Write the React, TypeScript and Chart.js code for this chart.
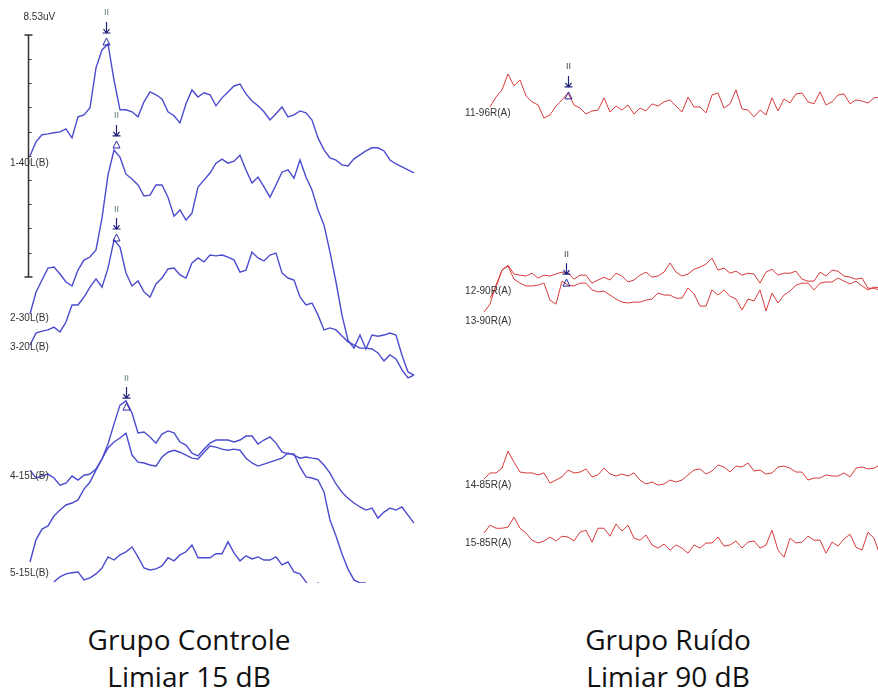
import { useEffect, useRef } from "react";
import { Chart, registerables } from "chart.js";

Chart.register(...registerables);

// ---- sampling / scale constants ----
const STEP_MS = 0.2; // sampling interval of the stored points (ms)
const Y_MIN_UV = 0;
const Y_MAX_UV = 20.55;
const SCALE_BAR_UV = 8.53;
const SCALE_BAR_DIVISIONS = 10;
const SCALE_BAR_TOP_UV = 19.32;
const SCALE_BAR_MS = -0.07;

// ---- Grupo Controle (left) : amplitudes in µV relative to each trace baseline ----
const LEFT_NAMES = ["1-40L(B)", "2-30L(B)", "3-20L(B)", "4-15L(B)", "5-15L(B)", ""];
const LEFT_START_MS = [0, 0, 0, 0, 0, 0.8];
const LEFT_OFFSETS_UV = [15.02, 9.55, 8.46, 3.98, 0.74, 0.11];
const LEFT_LABEL_UV = [14.8, 9.34, 8.32, 3.77, 0.35, null];

const T1_40L = [0.04, 0.53, 0.78, 0.81, 0.85, 0.88, 0.99, 0.67, 1.41, 1.48, 1.73, 3.14, 3.77, 3.98, 2.71, 1.66, 1.66, 1.59, 1.41, 1.94, 2.29, 2.19, 2.04, 1.59, 1.45, 1.2, 1.87, 2.36, 2.11, 2.26, 2.19, 1.8, 2.08, 2.29, 2.5, 2.57, 2.22, 1.97, 1.8, 1.59, 1.3, 1.52, 1.76, 1.41, 1.48, 1.62, 1.55, 1.3, 0.67, 0.25, -0.04, -0.11, -0.28, -0.32, -0.07, 0.07, 0.21, 0.32, 0.32, 0.21, -0.11, -0.25, -0.35, -0.46, -0.56];
const T2_30L = [-0.07, 0.7, 1.13, 1.55, 1.59, 1.34, 1.06, 0.92, 1.48, 1.83, 1.94, 2.19, 3.31, 4.83, 5.71, 5.46, 4.86, 4.69, 4.48, 4.09, 4.12, 4.48, 4.48, 4.05, 3.38, 3.6, 3.24, 3.49, 4.41, 4.65, 4.9, 5.25, 5.39, 5.25, 5.32, 5.53, 5.01, 4.55, 4.76, 4.41, 4.05, 4.48, 4.93, 5.01, 4.72, 5.36, 4.76, 4.3, 3.6, 3.07, 2.11, 1.06, -0.11, -0.99, -1.27, -0.81, -1.3, -0.81, -0.85, -0.81, -0.74, -0.81, -1.52, -2.11, -2.22];
const T3_20L = [-0.07, 0.35, 0.42, 0.46, 0.56, 0.39, 0.74, 1.34, 1.34, 1.62, 1.97, 2.26, 1.97, 2.64, 3.63, 3.38, 2.47, 2.01, 2.19, 1.8, 1.62, 2.08, 2.29, 2.61, 2.64, 2.4, 2.29, 2.82, 3.0, 2.86, 3.1, 3.07, 3.1, 3.03, 2.93, 2.5, 2.57, 3.21, 3.0, 2.89, 3.1, 3.17, 2.47, 2.29, 2.22, 1.62, 1.34, 1.41, 0.99, 0.46, 0.53, 0.46, 0.25, 0.04, -0.07, -0.18, -0.18, -0.21, -0.35, -0.63, -0.42, -0.56, -0.95, -1.23, -1.13];
const T4_15L = [0, -0.28, -0.21, -0.14, -0.28, -0.53, -0.46, -0.21, -0.35, -0.18, -0.14, 0.04, 0.39, 0.78, 0.99, 1.13, 1.3, 0.53, 0.28, 0.25, 0.18, 0.14, 0.46, 0.63, 0.7, 0.63, 0.53, 0.42, 0.39, 0.63, 0.85, 0.81, 0.74, 0.7, 0.74, 0.7, 0.42, 0.25, 0.14, 0.21, 0.28, 0.35, 0.42, 0.6, 0.53, 0.42, 0.46, 0.42, 0.39, 0.18, -0.11, -0.49, -0.78, -0.99, -1.16, -1.3, -1.41, -1.34, -1.69, -1.48, -1.34, -1.41, -1.3, -1.59, -1.87];
const T5_15L = [0, 0.78, 1.16, 1.27, 1.62, 1.83, 2.01, 2.08, 2.19, 2.57, 2.82, 3.24, 3.63, 4.16, 4.86, 5.53, 5.68, 5.25, 4.55, 4.58, 4.41, 4.19, 4.51, 4.62, 4.55, 4.23, 4.12, 3.84, 3.74, 3.98, 4.19, 4.3, 4.3, 4.3, 4.23, 4.3, 4.44, 4.44, 4.16, 4.3, 4.41, 4.19, 3.88, 3.81, 3.81, 3.35, 3.0, 2.96, 2.89, 2.47, 1.48, 0.92, 0.28, -0.25, -0.63, -0.74, -0.74];
const T6_BOTTOM = [-0.07, 0.11, 0.21, 0.25, 0.28, 0, 0.07, 0.21, 0.42, 0.81, 0.7, 0.88, 0.99, 1.16, 0.81, 0.42, 0.35, 0.39, 0.49, 0.78, 0.67, 0.88, 0.99, 1.23, 0.78, 0.78, 0.78, 0.92, 0.92, 1.34, 0.95, 0.67, 0.85, 0.74, 0.81, 0.7, 0.7, 0.81, 0.53, 0.63, 0.28, 0.21, -0.07, -0.35, -0.11, -0.53];

const LEFT_WAVE_II = [
  { trace: 0, ms: 2.53, uV: 4.05 },
  { trace: 1, ms: 2.87, uV: 5.89 },
  { trace: 2, ms: 2.87, uV: 3.7 },
  { trace: 4, ms: 3.2, uV: 5.46 },
];

// ---- Grupo Ruído (right) ----
const RIGHT_NAMES = ["11-96R(A)", "12-90R(A)", "13-90R(A)", "14-85R(A)", "15-85R(A)"];
const RIGHT_START_MS = [0, 0, -0.2, -0.2, -0.2];
const RIGHT_OFFSETS_UV = [16.85, 10.15, 9.83, 3.7, 2.04];
const RIGHT_LABEL_UV = [16.57, 10.29, 9.24, 3.45, 1.41];

const T11_96R = [-0.07, 0.28, 0.53, 1.09, 0.67, 0.88, 0.32, 0.11, 0, -0.46, -0.35, -0.04, 0.18, 0.42, 0, -0.11, -0.32, -0.21, -0.18, 0.25, -0.25, -0.04, -0.18, 0, -0.32, -0.11, -0.21, 0.04, -0.04, 0.11, 0.18, -0.04, -0.25, 0.28, -0.07, -0.07, -0.28, 0.35, 0.42, -0.11, 0.04, 0.53, -0.14, -0.18, -0.42, -0.18, -0.35, 0.25, -0.21, 0.21, 0.07, 0.39, 0.42, 0.11, 0.04, 0.46, 0, 0.11, 0.35, 0.39, 0.04, 0.18, 0.14, 0.07, 0.25, 0.28];
const T12_90R = [-0.11, 0.28, 0.88, 1.02, 0.56, 0.42, 0.32, 0.32, 0.35, 0.42, -0.18, -0.32, 0.49, 0.35, 0.32, 0.42, 0.42, 0.18, 0.11, 0.14, 0, -0.14, -0.25, -0.28, -0.25, -0.25, -0.18, -0.14, 0.07, 0, 0, -0.11, -0.11, 0.25, 0.04, -0.39, -0.39, 0.18, 0, 0.18, -0.04, -0.14, -0.53, -0.14, -0.21, 0.18, -0.56, 0.07, -0.28, 0, 0.14, 0.35, 0.42, 0.42, 0.18, 0.42, 0.46, 0.46, 0.6, 0.49, 0.39, 0.49, 0.32, 0.18, 0.28, 0.25];
const T13_90R = [-0.28, 0, 0.67, 1.2, 1.37, 1.06, 1.02, 0.99, 1.09, 0.92, 1.02, 0.99, 1.06, 1.13, 1.09, 0.88, 1.02, 1.02, 0.74, 0.85, 0.95, 0.85, 1.09, 0.99, 0.78, 0.85, 1.02, 1.13, 0.95, 0.99, 1.13, 1.45, 1.13, 0.99, 1.06, 1.23, 1.3, 1.41, 1.62, 1.2, 1.27, 1.09, 1.16, 1.02, 1.09, 1.06, 0.74, 1.13, 1.23, 1.02, 1.09, 1.09, 1.16, 0.88, 0.81, 0.81, 1.13, 0.99, 1.2, 1.16, 0.99, 0.95, 0.88, 0.92, 0.56, 0.56, 0.49];
const T14_85R = [-0.04, 0.18, 0.18, 0.35, 0.95, 0.56, 0.21, 0.18, 0.18, 0.11, 0.18, -0.18, -0.07, 0.04, 0.28, 0.18, 0.21, 0.32, 0.04, 0.11, 0.35, 0.14, 0.07, 0.14, 0.07, 0.18, -0.07, -0.21, -0.14, -0.25, -0.21, -0.07, -0.14, -0.07, 0.11, 0.28, 0.32, 0.14, 0.25, 0.46, 0.39, 0.21, 0.42, 0.39, 0.53, 0.25, 0.28, 0.14, 0.18, 0.39, 0.42, 0.35, 0.21, 0.21, -0.07, 0, 0, 0.11, 0.07, 0.07, 0.18, 0.04, 0.35, 0.39, 0.32, 0.35, 0.46];
const T15_85R = [-0.28, 0, -0.11, -0.11, -0.07, 0.28, -0.11, -0.28, -0.53, -0.63, -0.56, -0.42, -0.56, -0.39, -0.42, -0.56, -0.25, -0.18, -0.6, -0.11, -0.11, -0.39, 0.04, -0.21, 0, -0.46, -0.53, -0.35, -0.7, -0.81, -0.67, -0.88, -0.7, -0.81, -0.99, -0.7, -0.81, -0.63, -0.63, -0.42, -0.74, -0.7, -0.56, -0.81, -0.6, -0.56, -0.81, -0.7, -0.18, -0.88, -1.13, -0.46, -0.63, -0.6, -0.39, -0.53, -0.53, -0.99, -0.6, -0.74, -0.49, -0.32, -0.78, -0.88, -0.25, -0.46, -1.06];

const RIGHT_WAVE_II = [
  { trace: 0, ms: 2.6, uV: 0.32 },
  { trace: 1, ms: 2.53, uV: 0.42 },
];

type Marker = { trace: number; ms: number; uV: number };
type PanelSpec = {
  names: string[];
  starts: number[];
  offsets: number[];
  labelUV: (number | null)[];
  labelMs: number;
  series: number[][];
  color: string;
  lineWidth: number;
  markers: Marker[];
  markerTextColor: string;
  xMin: number;
  xMax: number;
  scaleBar: boolean;
};

const LEFT_PANEL: PanelSpec = {
  names: LEFT_NAMES,
  starts: LEFT_START_MS,
  offsets: LEFT_OFFSETS_UV,
  labelUV: LEFT_LABEL_UV,
  labelMs: -0.67,
  series: [T1_40L, T2_30L, T3_20L, T4_15L, T5_15L, T6_BOTTOM],
  color: "#4b4bcf",
  lineWidth: 1.4,
  markers: LEFT_WAVE_II,
  markerTextColor: "#5f7d7a",
  xMin: -1,
  xMax: 13.667,
  scaleBar: true,
};

const RIGHT_PANEL: PanelSpec = {
  names: RIGHT_NAMES,
  starts: RIGHT_START_MS,
  offsets: RIGHT_OFFSETS_UV,
  labelUV: RIGHT_LABEL_UV,
  labelMs: -0.83,
  series: [T11_96R, T12_90R, T13_90R, T14_85R, T15_85R],
  color: "#d83b3b",
  lineWidth: 1,
  markers: RIGHT_WAVE_II,
  markerTextColor: "#444",
  xMin: -1.667,
  xMax: 12.933,
  scaleBar: false,
};

const LABEL_FONT = "10px 'Liberation Sans', Arial, sans-serif";

function annotations(spec: PanelSpec) {
  return {
    id: "abrAnnotations",
    afterDatasetsDraw(chart: any) {
      const { ctx } = chart;
      const x = chart.scales.x;
      const y = chart.scales.y;
      ctx.save();
      // trace labels
      ctx.font = LABEL_FONT;
      ctx.fillStyle = "#333";
      ctx.textAlign = "left";
      ctx.textBaseline = "middle";
      spec.names.forEach((name, i) => {
        const lv = spec.labelUV[i];
        if (!name || lv == null) return;
        ctx.fillText(name, x.getPixelForValue(spec.labelMs), y.getPixelForValue(lv));
      });
      // wave II markers
      spec.markers.forEach((m) => {
        const px = Math.round(x.getPixelForValue(m.ms)) + 0.5;
        const py = y.getPixelForValue(spec.offsets[m.trace] + m.uV);
        ctx.fillStyle = spec.markerTextColor;
        ctx.font = "9px 'Liberation Sans', Arial, sans-serif";
        ctx.textAlign = "center";
        ctx.textBaseline = "middle";
        ctx.fillText("II", px, py - 29);
        ctx.strokeStyle = "#23237e";
        ctx.lineWidth = 1.2;
        ctx.beginPath();
        ctx.moveTo(px, py - 20);
        ctx.lineTo(px, py - 9);
        ctx.moveTo(px - 3, py - 13);
        ctx.lineTo(px, py - 9);
        ctx.lineTo(px + 3, py - 13);
        ctx.moveTo(px - 4, py - 9);
        ctx.lineTo(px + 4, py - 9);
        ctx.stroke();
        ctx.strokeStyle = "#2a2aa0";
        ctx.lineWidth = 1;
        ctx.beginPath();
        ctx.moveTo(px, py - 4);
        ctx.lineTo(px - 3.5, py + 3);
        ctx.lineTo(px + 3.5, py + 3);
        ctx.closePath();
        ctx.stroke();
      });
      // amplitude scale bar
      if (spec.scaleBar) {
        const bx = Math.round(x.getPixelForValue(SCALE_BAR_MS)) + 0.5;
        const top = y.getPixelForValue(SCALE_BAR_TOP_UV);
        const bottom = y.getPixelForValue(SCALE_BAR_TOP_UV - SCALE_BAR_UV);
        ctx.strokeStyle = "#333";
        ctx.lineWidth = 1.5;
        ctx.beginPath();
        ctx.moveTo(bx, top);
        ctx.lineTo(bx, bottom);
        ctx.moveTo(bx - 4, top);
        ctx.lineTo(bx + 4, top);
        ctx.moveTo(bx - 4, bottom);
        ctx.lineTo(bx + 4, bottom);
        ctx.stroke();
        ctx.lineWidth = 1;
        ctx.beginPath();
        for (let k = 1; k < SCALE_BAR_DIVISIONS; k++) {
          const ty = Math.round(y.getPixelForValue(SCALE_BAR_TOP_UV - (SCALE_BAR_UV * k) / SCALE_BAR_DIVISIONS)) + 0.5;
          ctx.moveTo(bx, ty);
          ctx.lineTo(bx + 3, ty);
        }
        ctx.stroke();
        ctx.fillStyle = "#333";
        ctx.font = LABEL_FONT;
        ctx.textAlign = "left";
        ctx.textBaseline = "middle";
        ctx.fillText(SCALE_BAR_UV.toFixed(2) + "uV", bx - 5, top - 18);
      }
      ctx.restore();
    },
  };
}

function Panel({ spec, left, width }: { spec: PanelSpec; left: number; width: number }) {
  const ref = useRef<HTMLCanvasElement | null>(null);
  useEffect(() => {
    if (!ref.current) return;
    const datasets = spec.series.map((vals, i) => ({
      label: spec.names[i] || "trace " + (i + 1),
      data: vals.map((v, k) => ({ x: spec.starts[i] + k * STEP_MS, y: spec.offsets[i] + v })),
      borderColor: spec.color,
      borderWidth: spec.lineWidth,
      pointRadius: 0,
      tension: 0,
      fill: false,
    }));
    const chart = new Chart(ref.current, {
      type: "line",
      data: { datasets },
      options: {
        animation: false,
        responsive: false,
        devicePixelRatio: 1,
        layout: { padding: 0 },
        parsing: false,
        plugins: { legend: { display: false }, tooltip: { enabled: false }, title: { display: false } },
        scales: {
          x: { type: "linear", min: spec.xMin, max: spec.xMax, display: false },
          y: { type: "linear", min: Y_MIN_UV, max: Y_MAX_UV, display: false },
        },
      } as any,
      plugins: [annotations(spec) as any],
    });
    return () => chart.destroy();
  }, [spec]);
  return (
    <canvas
      ref={ref}
      width={width}
      height={583}
      style={{ position: "absolute", left, top: 0, width, height: 583 }}
    />
  );
}

const CAPTION_STYLE: any = {
  position: "absolute",
  width: 320,
  top: 621,
  textAlign: "center",
  fontFamily: "'Open Sans', 'Noto Sans', sans-serif",
  fontSize: 28,
  lineHeight: "37px",
  color: "#111",
};

export default function App() {
  return (
    <div style={{ position: "fixed", left: 0, top: 0, width: 878, height: 693, background: "#fff", overflow: "hidden" }}>
      <Panel spec={LEFT_PANEL} left={0} width={440} />
      <Panel spec={RIGHT_PANEL} left={440} width={438} />
      <div style={{ ...CAPTION_STYLE, left: 189 - 160 }}>
        Grupo Controle
        <br />
        Limiar 15 dB
      </div>
      <div style={{ ...CAPTION_STYLE, left: 668 - 160 }}>
        Grupo Ruído
        <br />
        Limiar 90 dB
      </div>
    </div>
  );
}
